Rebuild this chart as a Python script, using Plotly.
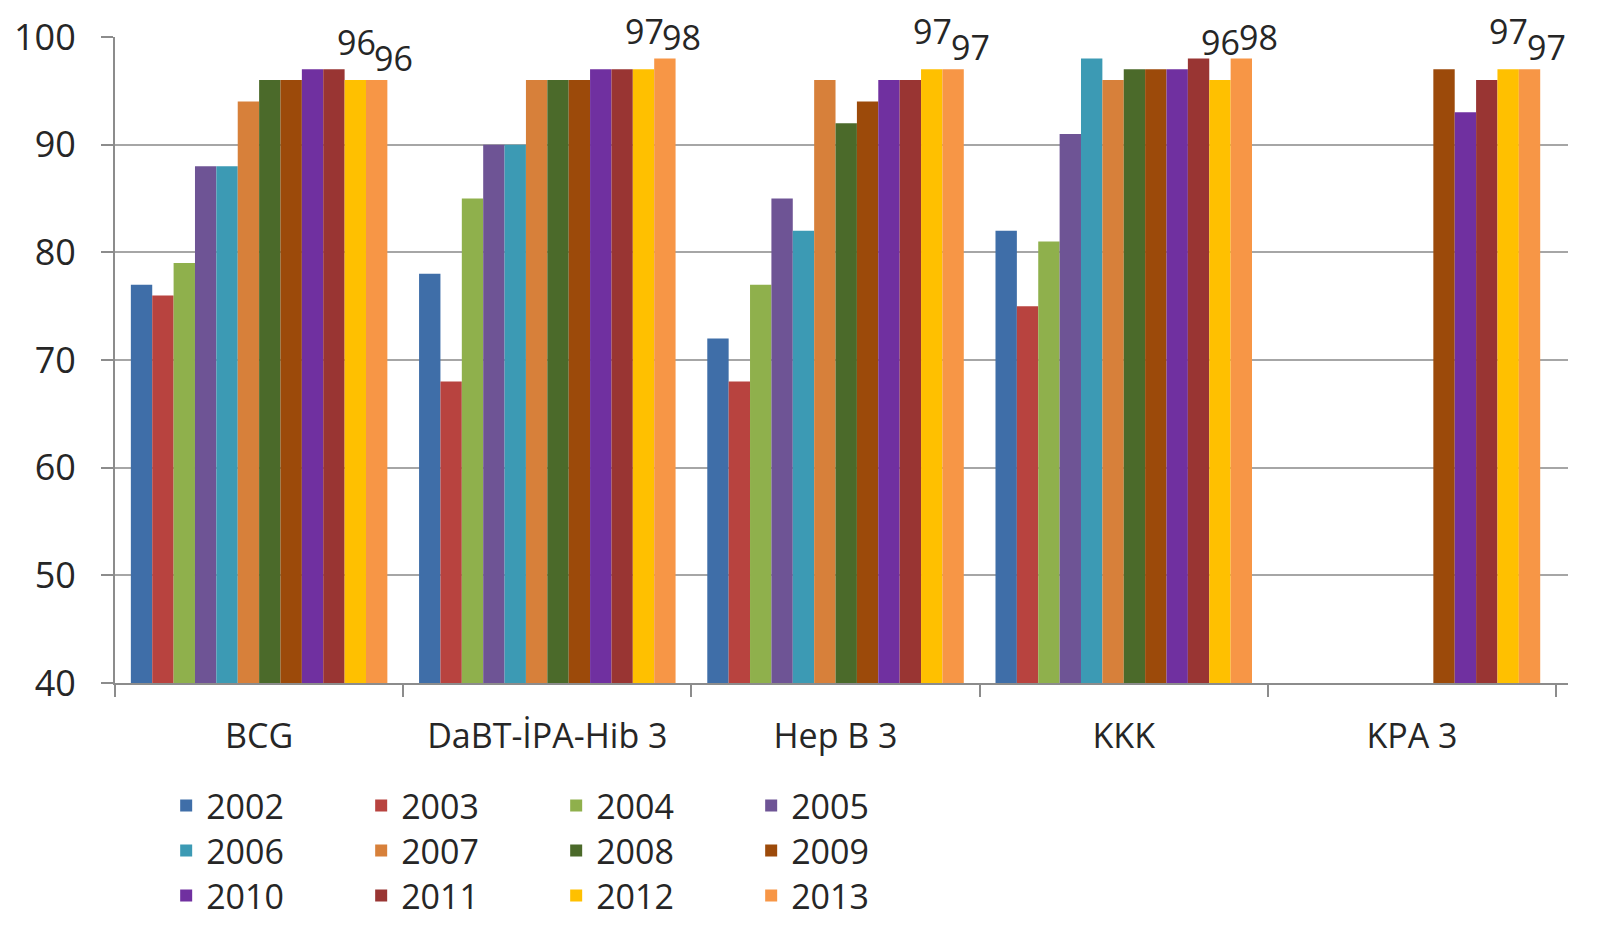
import plotly.graph_objects as go

categories = ["BCG", "DaBT-İPA-Hib 3", "Hep B 3", "KKK", "KPA 3"]
years = ["2002", "2003", "2004", "2005", "2006", "2007",
         "2008", "2009", "2010", "2011", "2012", "2013"]

v2002 = [77, 78, 72, 82, None]
v2003 = [76, 68, 68, 75, None]
v2004 = [79, 85, 77, 81, None]
v2005 = [88, 90, 85, 91, None]
v2006 = [88, 90, 82, 98, None]
v2007 = [94, 96, 96, 96, None]
v2008 = [96, 96, 92, 97, None]
v2009 = [96, 96, 94, 97, 97]
v2010 = [97, 97, 96, 97, 93]
v2011 = [97, 97, 96, 98, 96]
v2012 = [96, 97, 97, 96, 97]
v2013 = [96, 98, 97, 98, 97]

series = [v2002, v2003, v2004, v2005, v2006, v2007,
          v2008, v2009, v2010, v2011, v2012, v2013]
labelled = ["2012", "2013"]

colors = ["#3F6EA8", "#B8433F", "#8FB04C", "#6E5495", "#3C9AB4", "#D7803A",
          "#4B6A2A", "#9C4A0A", "#7030A0", "#993533", "#FFC000", "#F79646"]

FONT = "Open Sans"
TXT = "#262626"

W, H = 1614, 933
ML, MR, MT, MB = 107, 54, 29, 258
BARGAP = 0.11

fig = go.Figure()
for i, (yr, vals) in enumerate(zip(years, series)):
    leg = ["legend", "legend2", "legend3"][i // 4]
    fig.add_trace(go.Bar(x=categories, y=vals, name=yr,
                         marker=dict(color=colors[i], line=dict(width=0)),
                         legend=leg))

# data labels for 2012 / 2013, placed over their bars
cat_px = (W - ML - MR) / len(categories)
bar_px = cat_px * (1 - BARGAP) / len(years)
label_style = {"2012": dict(dx=0, dy=38), "2013": dict(dx=16, dy=22)}
for yr in labelled:
    idx = years.index(yr)
    vals = series[idx]
    off = (idx - (len(years) - 1) / 2) * bar_px
    for c, v in zip(categories, vals):
        if v is None:
            continue
        fig.add_annotation(x=c, y=v, xref="x", yref="y", text=str(v),
                           showarrow=False, xanchor="center", yanchor="middle",
                           xshift=off + label_style[yr]["dx"],
                           yshift=label_style[yr]["dy"],
                           font=dict(size=34, color=TXT, family=FONT))

legend_common = dict(orientation="h", font=dict(size=34, color=TXT, family=FONT),
                     entrywidth=150, entrywidthmode="pixels",
                     bgcolor="rgba(0,0,0,0)", xanchor="left", yanchor="middle",
                     xref="container", yref="container",
                     tracegroupgap=0, itemwidth=30)

fig.update_layout(
    width=W, height=H,
    margin=dict(l=ML, r=MR, t=MT, b=MB, autoexpand=False),
    paper_bgcolor="white", plot_bgcolor="white",
    barmode="group", bargap=BARGAP, bargroupgap=0,
    font=dict(family=FONT, color=TXT, size=34),
    legend=dict(x=0.098, y=1 - 798 / H, **legend_common),
    legend2=dict(x=0.098, y=1 - 843 / H, **legend_common),
    legend3=dict(x=0.098, y=1 - 888 / H, **legend_common),
    xaxis=dict(showgrid=False, showline=True, linecolor="#8C8C8C", linewidth=2,
               ticks="outside", tickson="boundaries", ticklen=12,
               tickcolor="#8C8C8C", tickwidth=2, ticklabelstandoff=22,
               tickfont=dict(size=34, color=TXT, family=FONT)),
    yaxis=dict(range=[40, 100], dtick=10, showgrid=True, gridcolor="#A6A6A6",
               gridwidth=2, showline=True, linecolor="#8C8C8C", linewidth=2,
               ticks="outside", ticklen=12, tickcolor="#8C8C8C", tickwidth=2,
               ticklabelstandoff=18, zeroline=False,
               tickfont=dict(size=36, color=TXT, family=FONT)),
    showlegend=True,
)

fig.write_html("out.html")
